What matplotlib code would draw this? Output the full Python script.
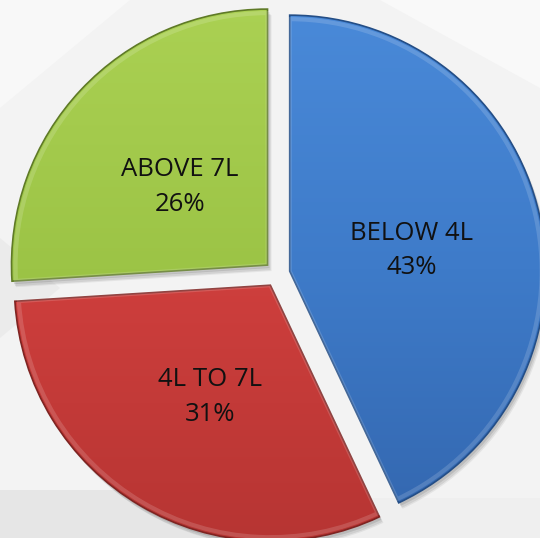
import matplotlib.pyplot as plt
import numpy as np
from matplotlib.patches import Wedge, Polygon
from matplotlib.colors import LinearSegmentedColormap

categories = ["BELOW 4L", "4L TO 7L", "ABOVE 7L"]
shares = [43, 31, 26]
colors = ["#3E7BC9", "#CF3F3D", "#9CC446"]
light = ["#4A8AD9", "#DD4A48", "#ABD153"]
dark = ["#3366AE", "#B73533", "#87AD3A"]
edges = ["#244E86", "#7E2422", "#5F7A27"]

W, H = 540, 538
cx, cy, r = 277, 264, 256
gap = 13  # explode offset in pixels

fig = plt.figure(figsize=(W / 100, H / 100), dpi=100)
fig.patch.set_facecolor("#F3F3F3")
ax = fig.add_axes([0, 0, 1, 1])
ax.set_facecolor("#F3F3F3")

# faint background tiles
bg = [
    ([(0, 0), (250, 0), (250, 48), (0, 48)], "#E6E6E6"),
    ([(250, 0), (540, 0), (540, 40), (250, 40)], "#EFEFEF"),
    ([(0, 538), (130, 538), (0, 430)], "#F8F8F8"),
    ([(380, 538), (540, 538), (540, 450)], "#F9F9F9"),
    ([(0, 300), (60, 250), (0, 200)], "#EBEBEB"),
]
for pts, c in bg:
    ax.add_patch(Polygon(pts, closed=True, facecolor=c, edgecolor="none", zorder=0))

it = iter(range(len(categories)))


def lab(pct):
    i = next(it)
    return "%s\n%d%%" % (categories[i], shares[i])


wedges, texts, autotexts = ax.pie(shares, colors=colors, startangle=90, counterclock=False,
                                  explode=[gap] * 3, center=(cx, cy), radius=r,
                                  autopct=lab, pctdistance=0.48,
                                  wedgeprops=dict(edgecolor="none", zorder=3),
                                  textprops=dict(fontsize=18.5, color="#111111",
                                                 family=["Open Sans", "DejaVu Sans"],
                                                 linespacing=1.5, zorder=6))
# labels sit a little lower than the wedge centroid
for t in autotexts:
    x, y = t.get_position()
    t.set_position((x + 2, y - 6))

yy = np.linspace(0, 1, 256).reshape(-1, 1)
for i, w in enumerate(wedges):
    # drop shadow
    for dx, dy, a in [(2, -3, 0.10), (3, -5, 0.08), (4, -6, 0.06)]:
        sh = Wedge((w.center[0] + dx, w.center[1] + dy), w.r, w.theta1, w.theta2,
                   facecolor="black", alpha=a, edgecolor="none", zorder=2)
        ax.add_patch(sh)
    cmap = LinearSegmentedColormap.from_list("g%d" % i, [light[i], colors[i], dark[i]])
    im = ax.imshow(yy, extent=(0, W, 0, H), cmap=cmap, aspect="auto", zorder=4,
                   interpolation="bilinear")
    im.set_clip_path(w)
    outl = Wedge(w.center, w.r, w.theta1, w.theta2, facecolor="none",
                 edgecolor=edges[i], linewidth=1.2, zorder=5)
    ax.add_patch(outl)
    inner = Wedge(w.center, w.r - 4, w.theta1, w.theta2, facecolor="none",
                  edgecolor="white", alpha=0.15, linewidth=3, zorder=5)
    ax.add_patch(inner)

ax.set_xlim(0, W)
ax.set_ylim(0, H)
ax.set_aspect("equal", adjustable="box")
ax.axis("off")

fig.savefig("out.png", dpi=100, facecolor=fig.get_facecolor())
